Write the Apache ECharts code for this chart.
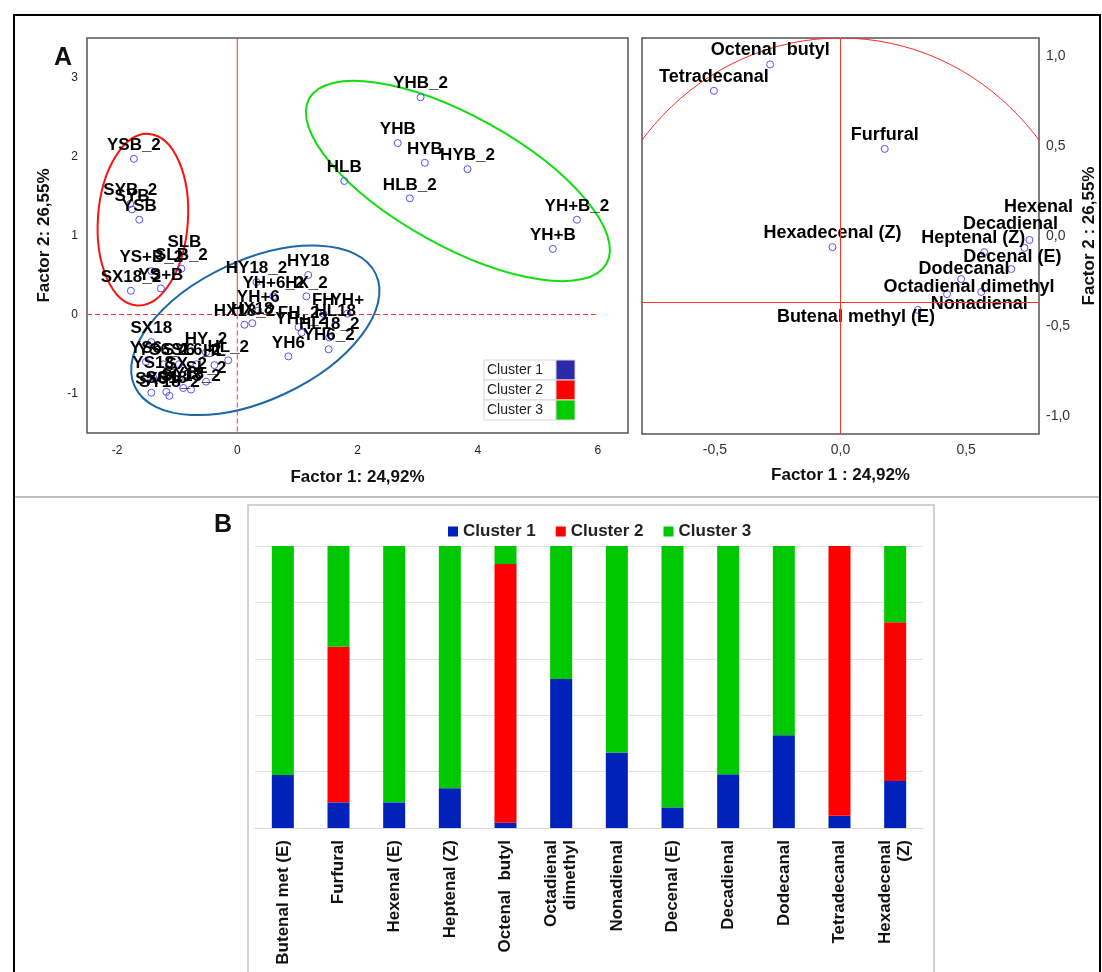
<!DOCTYPE html>
<html>
<head>
<meta charset="utf-8">
<script src="https://cdn.jsdelivr.net/npm/echarts@6/dist/echarts.min.js"></script>
<style>
html, body { margin: 0; padding: 0; background: #fff; }
#chart { width: 1102px; height: 972px; }
</style>
</head>
<body>
<div id="chart"></div>
<script>
var chart = echarts.init(document.getElementById('chart'));
var FONT = "'Liberation Sans', Arial, sans-serif";

// A, left: sample scores (factor 1 / factor 2)
var sampleNames = [
    'YSB_2', 'SYB_2', 'SYB', 'YSB', 'SLB', 'SLB_2', 'YS+B_2', 'SX18_2', 'YS+B',
    'HY18', 'HY18_2', 'YH+6_2', 'HX_2', 'YH+6', 'FH', 'YH+', 'HX18_2', 'HX18',
    'FH_2', 'YH+_2', 'HL18', 'HL18_2', 'YH6_2', 'YH6',
    'SX18', 'HY_2', 'HL_2', 'HL', 'YS6', 'YS6_2', 'SY6', 'SL6_2', 'YS18', 'SX_2',
    'SL_2', 'SX6', 'SY18_2', 'SL18_2', 'SY18', 'SS18',
    'YHB_2', 'YHB', 'HYB', 'HYB_2', 'HLB', 'HLB_2', 'YH+B_2', 'YH+B'
];
var sampleF1 = [
    -1.72, -1.78, -1.75, -1.63, -0.88, -0.93, -1.43, -1.77, -1.27,
    1.18, 0.32, 0.60, 1.15, 0.35, 1.43, 1.83, 0.12, 0.25,
    1.02, 1.07, 1.63, 1.53, 1.52, 0.85,
    -1.43, -0.52, -0.15, -0.38, -1.52, -1.23, -0.97, -0.68, -1.40, -0.85,
    -0.52, -1.43, -1.13, -0.77, -0.90, -1.18,
    3.05, 2.67, 3.12, 3.83, 1.78, 2.87, 5.65, 5.25
];
var sampleF2 = [
    1.97, 1.40, 1.33, 1.20, 0.74, 0.58, 0.55, 0.30, 0.33,
    0.50, 0.41, 0.23, 0.23, 0.05, 0.01, 0.01, -0.13, -0.11,
    -0.16, -0.23, -0.13, -0.29, -0.44, -0.53,
    -0.35, -0.48, -0.58, -0.64, -0.60, -0.63, -0.63, -0.63, -0.79, -0.80,
    -0.85, -0.99, -1.03, -0.95, -0.93, -0.98,
    2.75, 2.17, 1.92, 1.84, 1.69, 1.47, 1.20, 0.83
];
var scoreTicksX = [-2, 0, 2, 4, 6];
var scoreTicksY = [-1, 0, 1, 2, 3];
var scoreRangeX = [-2.5, 6.5];
var scoreRangeY = [-1.5, 3.5];
var zeroLineEndX = 6;   // the dashed horizontal zero line stops at 6

// cluster ellipses: centre in factor units
var clusterNames = ['Cluster 1', 'Cluster 2', 'Cluster 3'];
var ellipseCentreX = [0.30, -1.57, 3.67];
var ellipseCentreY = [-0.20, 1.20, 1.69];

// A, right: variable loadings
var varNames = [
    'Octenal  butyl', 'Tetradecanal', 'Furfural', 'Hexadecenal (Z)', 'Hexenal',
    'Decadienal', 'Heptenal (Z)', 'Decenal (E)', 'Dodecanal', 'Octadienal dimethyl',
    'Nonadienal', 'Butenal methyl (E)'
];
var varF1 = [-0.28, -0.504, 0.176, -0.032, 0.752, 0.732, 0.572, 0.68, 0.48, 0.424, 0.56, 0.308];
var varF2 = [0.90, 0.80, 0.58, 0.208, 0.235, 0.205, 0.189, 0.125, 0.087, 0.03, 0.038, -0.03];
var loadTicksX = [-0.5, 0, 0.5];
var loadTicksY = [-1, -0.5, 0, 0.5, 1];

// B: share of each compound per cluster (%)
var compounds = [
    'Butenal met (E)', 'Furfural', 'Hexenal (E)', 'Heptenal (Z)', 'Octenal  butyl',
    'Octadienal\ndimethyl', 'Nonadienal', 'Decenal (E)', 'Decadienal', 'Dodecanal',
    'Tetradecanal', 'Hexadecenal\n(Z)'
];
var cluster1 = [18.8, 9.1, 9.1, 14.1, 1.9, 52.8, 26.8, 7.3, 19.1, 32.9, 4.3, 16.7];
var cluster2 = [0, 55.2, 0, 0, 91.7, 0, 0, 0, 0, 0, 95.7, 56.3];
var cluster3 = [81.2, 35.7, 90.9, 85.9, 6.4, 47.2, 73.2, 92.7, 80.9, 67.1, 0, 27.0];

// styles
var tableColors = ['#2a2aa6', '#ff0000', '#00cc00'];
var barColors = ['#0022bb', '#ff0000', '#00c800'];
var ellipseStyle = [
    { rx: 133, ry: 70, rot: 25, color: '#1b67a8' },
    { rx: 45, ry: 86, rot: -4, color: '#ff1010' },
    { rx: 170, ry: 65, rot: -29, color: '#11dd11' }
];
var refRed = '#ff3030';
// label nudges for crowded loadings (pixels from the point)
var loadLabelShift = {
    'Hexenal': [9, -33],
    'Decadienal': [-14, -24],
    'Heptenal (Z)': [-11, -14],
    'Decenal (E)': [1, -12],
    'Dodecanal': [3, -10],
    'Octadienal dimethyl': [22, -7],
    'Nonadienal': [-2, 12],
    'Butenal methyl (E)': [-62, 7]
};

function comma(v) {
    return v.toFixed(1).replace('.', ',');
}

var pointStyle = { color: 'transparent', borderColor: '#5050ff', borderWidth: 1, opacity: 1 };
var labelFont = { fontFamily: FONT, fontWeight: 'bold', color: '#000', opacity: 1, textBorderWidth: 0 };

// a reference line drawn as a plain two-point line on the score axes
function refLine(from, to, type) {
    return {
        type: 'line', xAxisIndex: 0, yAxisIndex: 0, z: 2, silent: true,
        symbol: 'none', animation: false,
        lineStyle: { color: refRed, width: 1, type: type },
        data: [from, to]
    };
}

// legend table inside panel A
var tableGraphics = [];
clusterNames.forEach(function (name, i) {
    tableGraphics.push({
        type: 'rect', shape: { x: 484, y: 360 + i * 20, width: 72, height: 20 },
        style: { fill: '#fff', stroke: '#d8d8d8', lineWidth: 1 }
    });
    tableGraphics.push({
        type: 'rect', shape: { x: 556, y: 360 + i * 20, width: 19, height: 20 },
        style: { fill: tableColors[i], stroke: '#d8d8d8', lineWidth: 1 }
    });
    tableGraphics.push({
        type: 'text', x: 487, y: 370 + i * 20,
        style: { text: name, font: '14px ' + FONT, fill: '#222', verticalAlign: 'middle' }
    });
});

var option = {
    backgroundColor: '#fff',
    animation: false,
    grid: [
        { left: 87, top: 38, width: 541, height: 395, show: true, borderColor: '#555', borderWidth: 1.5, outerBoundsMode: 'none' },
        { left: 642, top: 38, width: 397, height: 396, show: true, borderColor: '#555', borderWidth: 1.5, outerBoundsMode: 'none' },
        { left: 255, top: 546, width: 668, height: 282, outerBoundsMode: 'none' }
    ],
    legend: {
        data: clusterNames,
        left: 443,
        top: 518,
        icon: 'rect',
        itemWidth: 10,
        itemHeight: 10,
        itemGap: 20,
        textStyle: { fontFamily: FONT, fontWeight: 'bold', fontSize: 17, color: '#222' }
    },
    xAxis: [
        {
            gridIndex: 0, type: 'value', min: scoreRangeX[0], max: scoreRangeX[1],
            axisLine: { show: false, onZero: false }, axisTick: { show: false }, splitLine: { show: false },
            axisLabel: { customValues: scoreTicksX, fontFamily: FONT, fontSize: 12, color: '#222', margin: 12 },
            name: 'Factor 1: 24,92%', nameLocation: 'middle', nameGap: 36,
            nameTextStyle: { fontFamily: FONT, fontWeight: 'bold', fontSize: 17, color: '#111' }
        },
        {
            gridIndex: 1, type: 'value', min: -0.79, max: 0.79,
            axisLine: { show: false, onZero: false }, axisTick: { show: false }, splitLine: { show: false },
            axisLabel: { customValues: loadTicksX, formatter: comma, fontFamily: FONT, fontSize: 14, color: '#333', margin: 9 },
            name: 'Factor 1 : 24,92%', nameLocation: 'middle', nameGap: 33,
            nameTextStyle: { fontFamily: FONT, fontWeight: 'bold', fontSize: 17, color: '#111' }
        },
        {
            gridIndex: 2, type: 'category', data: compounds,
            axisLine: { lineStyle: { color: '#d9d9d9' } }, axisTick: { show: false },
            axisLabel: { interval: 0, rotate: 90, margin: 12, fontFamily: FONT, fontWeight: 'bold', fontSize: 17, color: '#111', lineHeight: 19 }
        }
    ],
    yAxis: [
        {
            gridIndex: 0, type: 'value', min: scoreRangeY[0], max: scoreRangeY[1],
            axisLine: { show: false, onZero: false }, axisTick: { show: false }, splitLine: { show: false },
            axisLabel: { customValues: scoreTicksY, fontFamily: FONT, fontSize: 12, color: '#222', margin: 9 },
            name: 'Factor 2: 26,55%', nameLocation: 'middle', nameGap: 34, nameRotate: 90,
            nameTextStyle: { fontFamily: FONT, fontWeight: 'bold', fontSize: 17, color: '#111' }
        },
        {
            gridIndex: 1, type: 'value', position: 'right', min: -1.1, max: 1.1,
            axisLine: { show: false, onZero: false }, axisTick: { show: false }, splitLine: { show: false },
            axisLabel: { customValues: loadTicksY, formatter: comma, fontFamily: FONT, fontSize: 14, color: '#333', margin: 7 },
            name: 'Factor 2 : 26,55%', nameLocation: 'middle', nameGap: 42, nameRotate: 90,
            nameTextStyle: { fontFamily: FONT, fontWeight: 'bold', fontSize: 17, color: '#111' }
        },
        // loadings are plotted on this hidden axis (unit circle)
        { gridIndex: 1, type: 'value', min: -0.5, max: 1.0, show: false },
        {
            gridIndex: 2, type: 'value', min: 0, max: 100, interval: 20,
            axisLine: { show: false }, axisTick: { show: false }, axisLabel: { show: false },
            splitLine: { lineStyle: { color: '#e3e3e3' } }
        }
    ],
    series: [
        {
            // cluster ellipses
            type: 'custom', xAxisIndex: 0, yAxisIndex: 0, silent: true, clip: true, z: 1,
            data: ellipseCentreX.map(function (x, i) { return [x, ellipseCentreY[i], i]; }),
            renderItem: function (params, api) {
                var e = ellipseStyle[api.value(2)];
                var p = api.coord([api.value(0), api.value(1)]);
                return {
                    type: 'ellipse', x: p[0], y: p[1], rotation: e.rot * Math.PI / 180,
                    shape: { cx: 0, cy: 0, rx: e.rx, ry: e.ry },
                    style: { fill: 'none', stroke: e.color, lineWidth: 2 }
                };
            }
        },
        // zero lines of the score plot: solid above the origin, dashed below / across
        refLine([0, scoreRangeY[1]], [0, 0], 'solid'),
        refLine([0, 0], [0, scoreRangeY[0]], [5, 3]),
        refLine([scoreRangeX[0], 0], [zeroLineEndX, 0], [5, 3]),
        {
            name: 'samples', type: 'scatter', xAxisIndex: 0, yAxisIndex: 0, z: 3,
            symbol: 'circle', symbolSize: 7, itemStyle: pointStyle,
            data: sampleNames.map(function (n, i) { return { name: n, value: [sampleF1[i], sampleF2[i]] }; }),
            label: Object.assign({ show: true, position: 'top', distance: 1, fontSize: 17,
                formatter: function (p) { return p.name; } }, labelFont)
        },
        {
            // unit circle of the loadings
            type: 'custom', xAxisIndex: 1, yAxisIndex: 2, silent: true, clip: true, z: 1,
            data: [[0, 0, 1]],
            renderItem: function (params, api) {
                var c = api.coord([api.value(0), api.value(1)]);
                var s = api.size([api.value(2), api.value(2)]);
                return {
                    type: 'ellipse',
                    shape: { cx: c[0], cy: c[1], rx: s[0], ry: s[1] },
                    style: { fill: 'none', stroke: '#ff2a2a', lineWidth: 1 }
                };
            }
        },
        {
            name: 'loadings', type: 'scatter', xAxisIndex: 1, yAxisIndex: 2, z: 3,
            symbol: 'circle', symbolSize: 7, itemStyle: pointStyle,
            data: varNames.map(function (n, i) {
                var item = { name: n, value: [varF1[i], varF2[i]] };
                if (loadLabelShift[n]) {
                    item.label = { position: 'inside', offset: loadLabelShift[n] };
                }
                return item;
            }),
            label: Object.assign({ show: true, position: 'top', distance: 1, fontSize: 18,
                formatter: function (p) { return p.name; } }, labelFont),
            markLine: {
                silent: true, symbol: 'none', label: { show: false },
                lineStyle: { color: refRed, width: 1, type: 'solid' },
                data: [{ xAxis: 0 }, { yAxis: 0 }]
            }
        },
        {
            name: clusterNames[0], type: 'bar', xAxisIndex: 2, yAxisIndex: 3, stack: 'share',
            barWidth: 22, itemStyle: { color: barColors[0] }, data: cluster1
        },
        {
            name: clusterNames[1], type: 'bar', xAxisIndex: 2, yAxisIndex: 3, stack: 'share',
            barWidth: 22, itemStyle: { color: barColors[1] }, data: cluster2
        },
        {
            name: clusterNames[2], type: 'bar', xAxisIndex: 2, yAxisIndex: 3, stack: 'share',
            barWidth: 22, itemStyle: { color: barColors[2] }, data: cluster3
        }
    ],
    graphic: [
        // outer frame and panel divider
        { type: 'rect', shape: { x: 14, y: 15, width: 1086, height: 980 }, style: { fill: 'none', stroke: '#000', lineWidth: 2 }, silent: true },
        { type: 'line', shape: { x1: 15, y1: 497, x2: 1099, y2: 497 }, style: { stroke: '#aaa', lineWidth: 1.5 }, silent: true },
        // panel B box
        { type: 'rect', shape: { x: 248, y: 505, width: 686, height: 500 }, style: { fill: 'none', stroke: '#c4c4c4', lineWidth: 1.5 }, silent: true },
        { type: 'text', x: 54, y: 46, style: { text: 'A', font: 'bold 25px ' + FONT, fill: '#111' } },
        { type: 'text', x: 214, y: 513, style: { text: 'B', font: 'bold 25px ' + FONT, fill: '#111' } }
    ].concat(tableGraphics)
};

chart.setOption(option);
</script>
</body>
</html>
